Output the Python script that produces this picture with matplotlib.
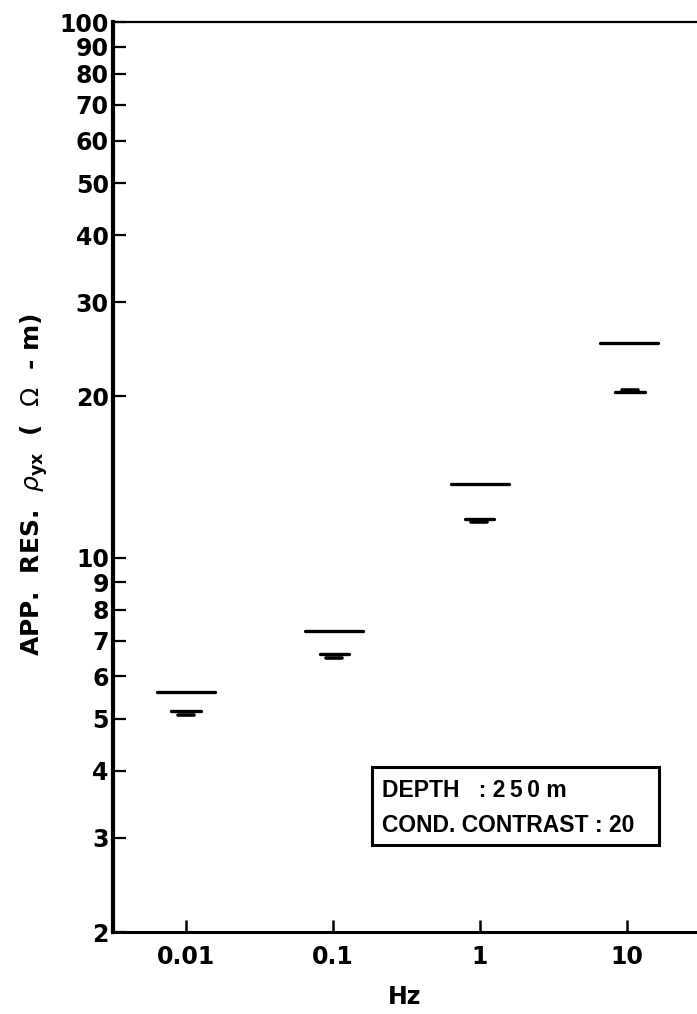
import numpy as np
import matplotlib
matplotlib.use("Agg")
import matplotlib.pyplot as plt
from matplotlib.ticker import FixedLocator, NullLocator
from matplotlib.patches import Rectangle

# ---- data ----
freq = [0.01, 0.1, 1.0, 10.0]
freq_labels = ["0.01", "0.1", "1", "10"]
rho_upper = [5.6, 7.3, 13.7, 25.2]          # long dash
rho_lower_a = [5.18, 6.62, 11.8, 20.35]     # short dash (wider)
rho_lower_b = [5.09, 6.50, 11.63, 20.6]     # short dash (narrower)
upper_center = [0.01, 0.102, 1.0, 10.3]
lower_center = [0.01, 0.102, 0.99, 10.5]
ytick_vals = [2, 3, 4, 5, 6, 7, 8, 9, 10, 20, 30, 40, 50, 60, 70, 80, 90, 100]
ytick_labels = [str(v) for v in ytick_vals]
info_lines = ["DEPTH   : 2\u20095\u20090 m", "COND. CONTRAST : 20"]

# ---- style ----
plt.rcParams['font.family'] = ['DejaVu Sans']
W, H = 697, 1014
fig = plt.figure(figsize=(W/100, H/100), dpi=100)
ax = fig.add_axes([113/W, 1-932/H, (W-113)/W, (932-22)/H])

ax.set_xscale('log')
ax.set_yscale('log')
ax.set_xlim(10**-2.497, 10**1.476)
ax.set_ylim(2, 100)

def seg(center, half_dec, y, lw):
    ax.plot([center*10**-half_dec, center*10**half_dec], [y, y],
            color='black', lw=lw, solid_capstyle='round')

for yu, ya, yb, fu, fl in zip(rho_upper, rho_lower_a, rho_lower_b, upper_center, lower_center):
    seg(fu, 0.198, yu, 2.4)
    seg(fl, 0.10, ya, 2.4)
    seg(fl, 0.055, yb, 2.6)

ax.xaxis.set_major_locator(FixedLocator(freq))
ax.xaxis.set_minor_locator(NullLocator())
ax.set_xticklabels(freq_labels)
ax.yaxis.set_major_locator(FixedLocator(ytick_vals))
ax.yaxis.set_minor_locator(NullLocator())
ax.set_yticklabels(ytick_labels)

for lab in ax.get_xticklabels() + ax.get_yticklabels():
    lab.set_fontweight('bold')
    lab.set_fontsize(17)

ax.tick_params(axis='y', direction='in', length=9, width=1.6, pad=3, left=True, right=False)
ax.tick_params(axis='x', direction='in', length=9, width=1.8, pad=9, top=False)

ax.spines['right'].set_visible(False)
ax.spines['left'].set_linewidth(3.0)
ax.spines['bottom'].set_linewidth(2.2)
ax.spines['top'].set_linewidth(1.6)

ax.set_xlabel("Hz", fontsize=17, fontweight='bold', labelpad=12)
ax.set_ylabel(r"APP.  RES.  $\rho_{\mathbf{yx}}$  (  $\Omega$  - m)", fontsize=18, fontweight='bold')
ax.yaxis.set_label_coords(-0.108, 0.492)

# info box
ax.add_patch(Rectangle((0.4435, 0.0956), 0.4915, 0.0857, transform=ax.transAxes,
                       facecolor='white', edgecolor='black', lw=2.2, zorder=5))
ax.text(0.461, 0.1555, info_lines[0], transform=ax.transAxes, fontsize=16.5,
        fontweight='bold', family=['Liberation Sans', 'DejaVu Sans'], va='center', ha='left', zorder=6)
ax.text(0.461, 0.1175, info_lines[1], transform=ax.transAxes, fontsize=16.5,
        fontweight='bold', family=['Liberation Sans', 'DejaVu Sans'], va='center', ha='left', zorder=6)

fig.savefig("out.png", dpi=100)
